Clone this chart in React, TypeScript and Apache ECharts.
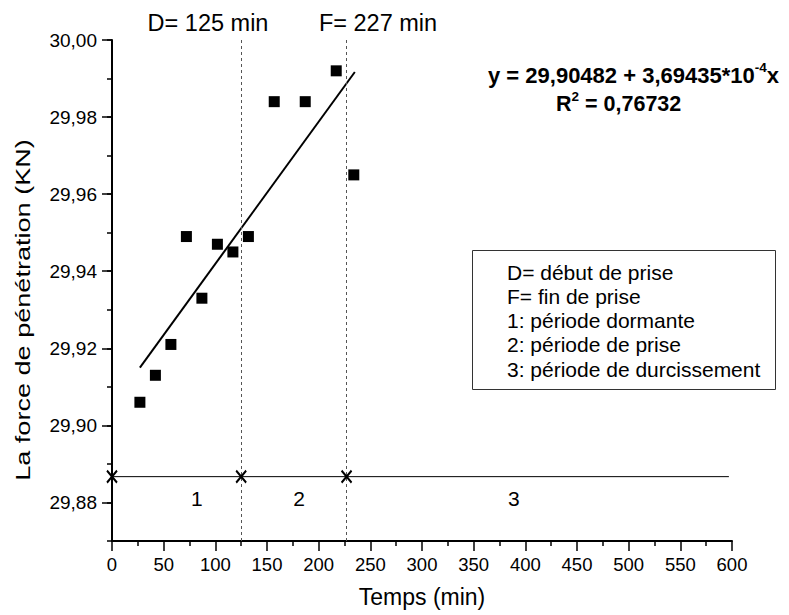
import React, { useEffect, useRef } from 'react';
import * as echarts from 'echarts';

// Measured points: time (min) vs penetration force (KN)
const timeMin = [27, 42, 57, 72, 87, 102, 117, 132, 157, 187, 217, 234];
const force = [29.906, 29.913, 29.921, 29.949, 29.933, 29.947, 29.945, 29.949, 29.984, 29.984, 29.992, 29.965];

// Linear fit line ends
const fitX = [27, 235];
const fitY = [29.915, 29.9917];

// Setting markers: D = 125 min, F = 227 min
const phaseMarksX = [0, 125, 227];
const settingLinesX = [125, 227];
const phaseLineY = 29.8867;
const phaseLineEndX = 597;
const phaseLabels = ['1', '2', '3'];
const phaseLabelX = [82, 181, 389];
const phaseLabelY = 29.881;

const yMajorTicks = [29.88, 29.9, 29.92, 29.94, 29.96, 29.98, 30.0];

const topLabels = ['D= 125 min', 'F= 227 min'];
const legendLines = [
  'D= début de prise',
  'F= fin de prise',
  '1: période dormante',
  '2: période de prise',
  '3: période de durcissement',
];
const equationText = 'y = 29,90482 + 3,69435*10';
const equationExp = '-4';
const r2Text = ' = 0,76732';

const FONT = "'Liberation Sans', Arial, Helvetica, sans-serif";

export default function App() {
  const ref = useRef<HTMLDivElement>(null);
  useEffect(() => {
    if (!ref.current) return;
    const chart = echarts.init(ref.current, null, { renderer: 'svg' });
    const fmt = (v: number) => v.toFixed(2).replace('.', ',');
    const option: any = {
      animation: false,
      backgroundColor: '#fff',
      textStyle: { fontFamily: FONT, color: '#000' },
      grid: { left: 112, right: 57, top: 40, bottom: 74, containLabel: false },
      xAxis: [
        {
          type: 'value',
          min: 0,
          max: 600,
          interval: 50,
          axisLine: { show: true, lineStyle: { color: '#000', width: 2 } },
          axisTick: { show: true, length: 10, lineStyle: { color: '#000', width: 1.5 } },
          minorTick: { show: true, splitNumber: 2, length: 5, lineStyle: { color: '#000', width: 1.5 } },
          axisLabel: { fontSize: 18.5, color: '#000', margin: 14, fontFamily: FONT },
          splitLine: { show: false },
          minorSplitLine: { show: false },
          name: 'Temps (min)',
          nameLocation: 'middle',
          nameGap: 44,
          nameTextStyle: { fontSize: 23, color: '#000', fontFamily: FONT },
        },
      ],
      yAxis: [
        {
          type: 'value',
          min: 29.87,
          max: 30.0,
          position: 'left',
          axisLine: { show: true, lineStyle: { color: '#000', width: 2 } },
          axisTick: { show: true, length: 10, customValues: yMajorTicks, lineStyle: { color: '#000', width: 1.5 } },
          axisLabel: { customValues: yMajorTicks, fontSize: 19, color: '#000', margin: 15, fontFamily: FONT, formatter: (v: number) => fmt(v) },
          splitLine: { show: false },
        },
        {
          type: 'value',
          min: 29.87,
          max: 30.0,
          interval: 0.01,
          position: 'left',
          axisLine: { show: false },
          axisTick: { show: true, length: 5, lineStyle: { color: '#000', width: 1.5 } },
          axisLabel: { show: false },
          splitLine: { show: false },
        },
      ],
      series: [
        {
          type: 'line',
          data: [[0, phaseLineY], [phaseLineEndX, phaseLineY]],
          symbol: 'none',
          lineStyle: { color: '#000', width: 1 },
          markLine: {
            silent: true,
            symbol: ['none', 'none'],
            label: { show: false },
            lineStyle: { color: '#555', width: 1, type: [3, 3] },
            data: settingLinesX.map((x) => ({ xAxis: x })),
          },
          z: 2,
        },
        {
          type: 'line',
          data: fitX.map((x, i) => [x, fitY[i]]),
          symbol: 'none',
          lineStyle: { color: '#000', width: 2 },
          z: 3,
        },
        {
          type: 'scatter',
          data: timeMin.map((t, i) => [t, force[i]]),
          symbol: 'rect',
          symbolSize: 11,
          itemStyle: { color: '#000', opacity: 1 },
          z: 4,
        },
        {
          type: 'scatter',
          data: phaseMarksX.map((x) => [x, phaseLineY]),
          symbol: 'path://M0,0L10,12M10,0L0,12',
          symbolSize: [10, 12],
          itemStyle: { color: 'transparent', borderColor: '#000', borderWidth: 2, opacity: 1 },
          z: 5,
        },
        {
          type: 'scatter',
          data: phaseLabelX.map((x) => [x, phaseLabelY]),
          symbolSize: 1,
          itemStyle: { color: 'transparent', opacity: 1 },
          label: {
            show: true,
            position: 'inside',
            formatter: (p: any) => phaseLabels[p.dataIndex],
            fontSize: 21,
            color: '#000',
            textBorderWidth: 0,
            opacity: 1,
            fontFamily: FONT,
          },
          z: 5,
        },
      ],
      graphic: [
        {
          type: 'text',
          x: 23,
          y: 310,
          rotation: Math.PI / 2,
          scaleX: 1.29,
          style: {
            text: 'La force de pénétration (KN)',
            fontSize: 21,
            fontFamily: FONT,
            fill: '#000',
            textAlign: 'center',
            textVerticalAlign: 'middle',
          },
        },
        {
          type: 'text',
          x: 208,
          y: 23,
          style: { text: topLabels[0], fontSize: 23.5, fontFamily: FONT, fill: '#000', textAlign: 'center', textVerticalAlign: 'middle' },
        },
        {
          type: 'text',
          x: 378,
          y: 23,
          style: { text: topLabels[1], fontSize: 23.5, fontFamily: FONT, fill: '#000', textAlign: 'center', textVerticalAlign: 'middle' },
        },
        {
          type: 'text',
          x: 488,
          y: 75,
          style: {
            text: '{b|' + equationText + '}{s|' + equationExp + '}{b|x}',
            textAlign: 'left',
            textVerticalAlign: 'middle',
            rich: {
              b: { fontSize: 22, fontWeight: 'bold', fontFamily: FONT, fill: '#000', lineHeight: 29 },
              s: { fontSize: 13.5, fontWeight: 'bold', fontFamily: FONT, fill: '#000', verticalAlign: 'top', lineHeight: 14 },
            },
          },
        },
        {
          type: 'text',
          x: 556,
          y: 104,
          style: {
            text: '{b|R}{s|2}{b|' + r2Text + '}',
            textAlign: 'left',
            textVerticalAlign: 'middle',
            rich: {
              b: { fontSize: 21.5, fontWeight: 'bold', fontFamily: FONT, fill: '#000', lineHeight: 29 },
              s: { fontSize: 13.5, fontWeight: 'bold', fontFamily: FONT, fill: '#000', verticalAlign: 'top', lineHeight: 14 },
            },
          },
        },
        {
          type: 'rect',
          shape: { x: 472.5, y: 250.5, width: 303, height: 139 },
          style: { fill: '#fff', stroke: '#333', lineWidth: 1 },
          z: 10,
        },
        ...legendLines.map((t, i) => ({
          type: 'text',
          x: 507,
          y: 272 + i * 24.25,
          z: 11,
          style: { text: t, fontSize: 21, fontFamily: FONT, fill: '#000', textAlign: 'left', textVerticalAlign: 'middle' },
        })),
      ],
    };
    chart.setOption(option);
    return () => chart.dispose();
  }, []);
  return <div ref={ref} style={{ position: 'fixed', left: 0, top: 0, width: 789, height: 615, background: '#fff' }} />;
}
